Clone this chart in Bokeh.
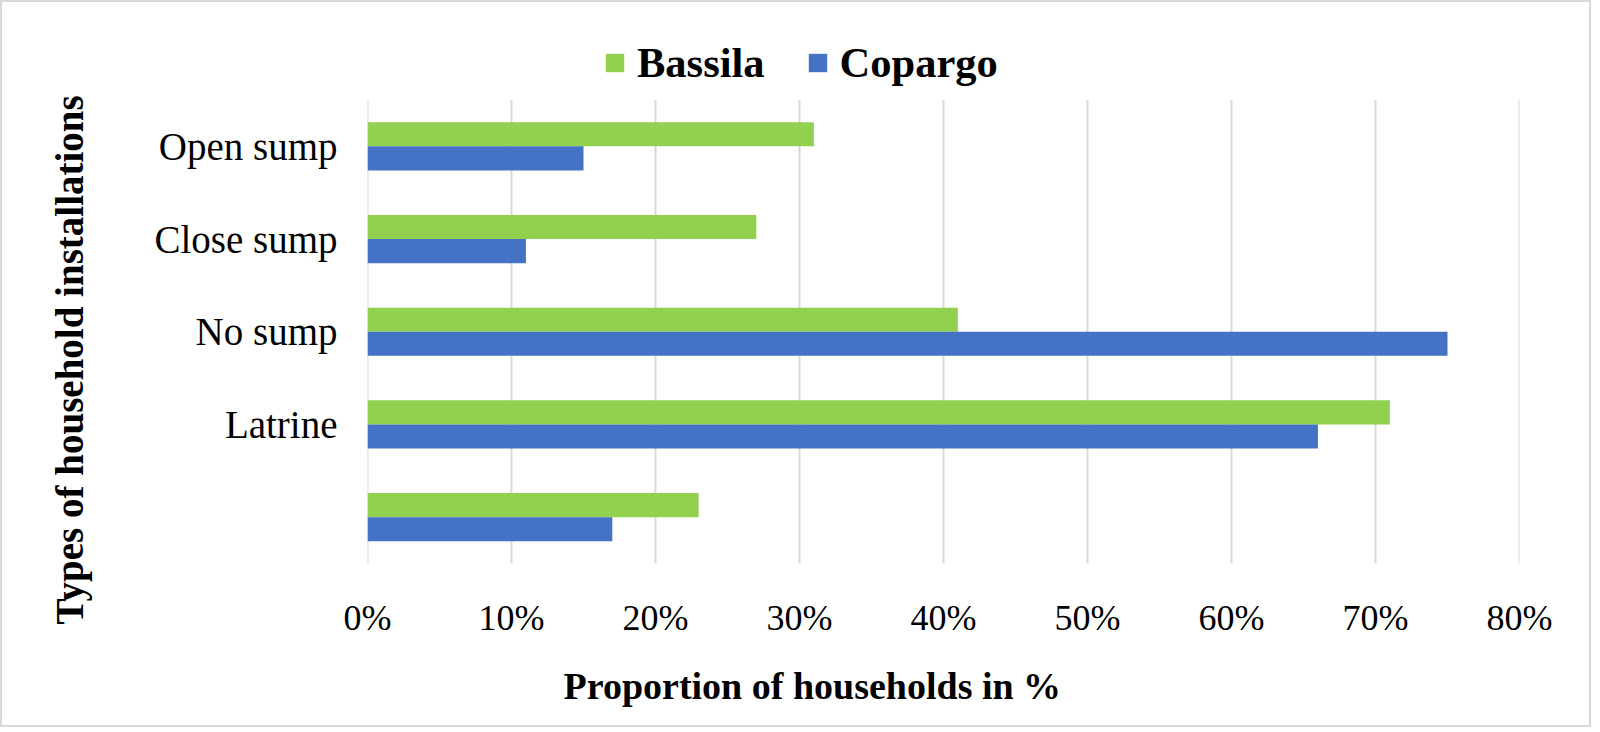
from bokeh.plotting import figure
from bokeh.models import (ColumnDataSource, Range1d, FixedTicker, LinearAxis,
                          NumeralTickFormatter, CustomJSTickFormatter,
                          Legend, LegendItem, Title)
from bokeh.embed import file_html
from bokeh.resources import INLINE

# ---- data ----
categories = ["Open sump", "Close sump", "No sump", "Latrine", ""]
bassila = [0.31, 0.27, 0.41, 0.71, 0.23]
copargo = [0.15, 0.11, 0.75, 0.66, 0.17]
x_ticks = [0.0, 0.1, 0.2, 0.3, 0.4, 0.5, 0.6, 0.7, 0.8]
series_names = ["Bassila", "Copargo"]
series_colors = ["#92d050", "#4472c4"]
x_title = "Proportion of households in %"
y_title = "Types of household installations"

FONT = "Liberation Serif"
n = len(categories)
BAR_H = 0.26

# category centres (top category first), bars dodged around them
centers = [n - 1 - i + 0.5 for i in range(n)]
source = ColumnDataSource(dict(
    cat=categories, center=centers,
    y_b=[c + BAR_H / 2 for c in centers],
    y_c=[c - BAR_H / 2 for c in centers],
    bassila=bassila, copargo=copargo,
))

p = figure(
    width=1591, height=727,
    x_range=Range1d(0, 0.8), y_range=Range1d(0, n + 0.75),
    output_backend="svg", toolbar_location=None,
    min_border_left=365, min_border_right=74, min_border_top=28, min_border_bottom=166,
)
p.styles = {"border": "2px solid #d9d9d9"}
p.background_fill_color = "white"
p.border_fill_color = "white"
p.outline_line_color = None
p.xgrid.visible = False
p.ygrid.visible = False

# vertical gridlines, spanning only the category bands
p.segment(x0=x_ticks, y0=[0] * len(x_ticks), x1=x_ticks, y1=[n] * len(x_ticks),
          line_color="#d9d9d9", line_width=2)

r1 = p.hbar(y="y_b", left=0, right="bassila", height=BAR_H, source=source,
            fill_color=series_colors[0], line_color=None)
r2 = p.hbar(y="y_c", left=0, right="copargo", height=BAR_H, source=source,
            fill_color=series_colors[1], line_color=None)

# x axis
xa = p.xaxis[0]
xa.ticker = FixedTicker(ticks=x_ticks)
xa.formatter = NumeralTickFormatter(format="0%")
xa.axis_line_color = None
xa.major_tick_line_color = None
xa.minor_tick_line_color = None
xa.major_tick_out = 0
xa.minor_tick_out = 0
xa.major_label_standoff = 34
xa.major_label_text_font = FONT
xa.major_label_text_font_size = "36px"
xa.major_label_text_color = "black"

# y axis (category labels)
ya = p.yaxis[0]
ya.ticker = FixedTicker(ticks=[c for c, name in zip(centers, categories) if name])
ya.major_label_overrides = {c: name for c, name in zip(centers, categories) if name}
ya.axis_line_color = None
ya.major_tick_line_color = None
ya.minor_tick_line_color = None
ya.major_tick_out = 0
ya.minor_tick_out = 0
ya.major_label_standoff = 30
ya.major_label_text_font = FONT
ya.major_label_text_font_size = "39px"
ya.major_label_text_color = "black"


def spacer(size, tick):
    # an invisible axis used only to reserve space between an axis and its title
    return LinearAxis(ticker=FixedTicker(ticks=[tick]),
                      formatter=CustomJSTickFormatter(code="return ''"),
                      axis_line_color=None,
                      major_tick_line_color="white", major_tick_line_alpha=0,
                      minor_tick_line_color=None,
                      major_tick_in=0, major_tick_out=size, minor_tick_out=0,
                      major_label_standoff=0, major_label_text_font_size="1px")


p.add_layout(spacer(61, n / 2), "left")
p.add_layout(spacer(24, 0.4), "below")

# axis titles
xt = Title(text=x_title, align="left", offset=196, vertical_align="top", standoff=0,
           text_font=FONT, text_font_size="38px", text_font_style="bold", text_color="black")
p.add_layout(xt, "below")
yt = Title(text=y_title, align="left", offset=-61, vertical_align="bottom", standoff=0,
           text_font=FONT, text_font_size="39px", text_font_style="bold", text_color="black")
p.add_layout(yt, "left")

# legend, inside the (extended) frame above the bars
legend = Legend(
    items=[LegendItem(label=series_names[0], renderers=[r1]),
           LegendItem(label=series_names[1], renderers=[r2])],
    orientation="horizontal", location=(236, 476),
    glyph_width=23, glyph_height=23, label_standoff=11, spacing=41,
    label_text_font=FONT, label_text_font_size="42.5px", label_text_font_style="bold",
    label_text_color="black",
    border_line_color=None, background_fill_alpha=0, padding=0, margin=0,
)
p.add_layout(legend, "center")

open("out.html", "w").write(file_html(p, INLINE))
